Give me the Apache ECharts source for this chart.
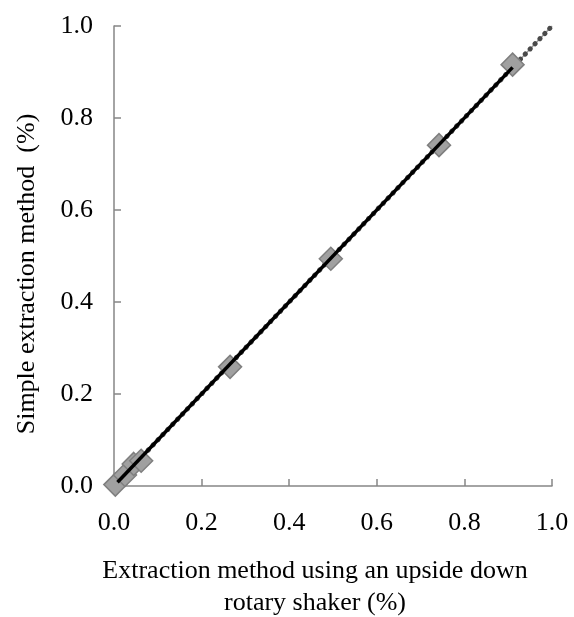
<!DOCTYPE html>
<html>
<head>
<meta charset="utf-8">
<script src="https://cdn.jsdelivr.net/npm/echarts@6/dist/echarts.min.js"></script>
<style>html,body{margin:0;padding:0;background:#fff}#c{width:574px;height:617px}</style>
</head>
<body>
<div id="c"></div>
<script>
const xValues = [0.003, 0.025, 0.045, 0.062, 0.265, 0.495, 0.742, 0.91];
const yValues = [0.003, 0.024, 0.048, 0.055, 0.259, 0.494, 0.741, 0.916];
const fitLine = [[0.008, 0.008], [0.91, 0.91]];
const oneToOne = [[0, 0], [1, 1]];
const tickValues = [0, 0.2, 0.4, 0.6, 0.8, 1.0];
const xTitle = ['Extraction method using an upside down', 'rotary shaker (%)'];
const yTitle = 'Simple extraction method  (%)';

const font = 'Liberation Serif';
const chart = echarts.init(document.getElementById('c'));
const axisCommon = {
  type: 'value', min: 0, max: 1, interval: 0.2,
  splitLine: { show: false },
  axisLine: { show: true, lineStyle: { color: '#868686', width: 1.5 } },
  axisTick: { show: true, inside: true, length: 7, lineStyle: { color: '#868686', width: 1.5 } },
  axisLabel: { color: '#000', fontFamily: font, fontSize: 26, formatter: v => v.toFixed(1) }
};
chart.setOption({
  animation: false,
  grid: { left: 114, right: 22, top: 26, bottom: 131, containLabel: false },
  xAxis: Object.assign({}, axisCommon, { axisLabel: Object.assign({}, axisCommon.axisLabel, { margin: 24 }) }),
  yAxis: Object.assign({}, axisCommon, { axisLabel: Object.assign({}, axisCommon.axisLabel, { margin: 21 }) }),
  graphic: [
    { type: 'text', x: 315, y: 571, style: { text: xTitle[0], font: '26px "' + font + '"', fill: '#000', align: 'center', verticalAlign: 'middle' } },
    { type: 'text', x: 315, y: 603, style: { text: xTitle[1], font: '26px "' + font + '"', fill: '#000', align: 'center', verticalAlign: 'middle' } },
    { type: 'text', x: 27, y: 274, rotation: Math.PI / 2, style: { text: yTitle, font: '26px "' + font + '"', fill: '#000', align: 'center', verticalAlign: 'middle' } }
  ],
  series: [
    { type: 'line', data: oneToOne, symbol: 'none', z: 1,
      lineStyle: { color: '#999', width: 1.5 } },
    { type: 'line', data: oneToOne, symbol: 'none', z: 2,
      lineStyle: { color: '#4a4a4a', width: 5, type: [0.1, 7], cap: 'round' } },
    { type: 'scatter', data: xValues.map((x, i) => [x, yValues[i]]), symbol: 'diamond', symbolSize: 23, z: 3,
      itemStyle: { color: '#a0a0a0', borderColor: '#7f7f7f', borderWidth: 1.5, opacity: 1 } },
    { type: 'line', data: fitLine, symbol: 'none', z: 4,
      lineStyle: { color: '#000', width: 3.5 } }
  ]
});
</script>
</body>
</html>
